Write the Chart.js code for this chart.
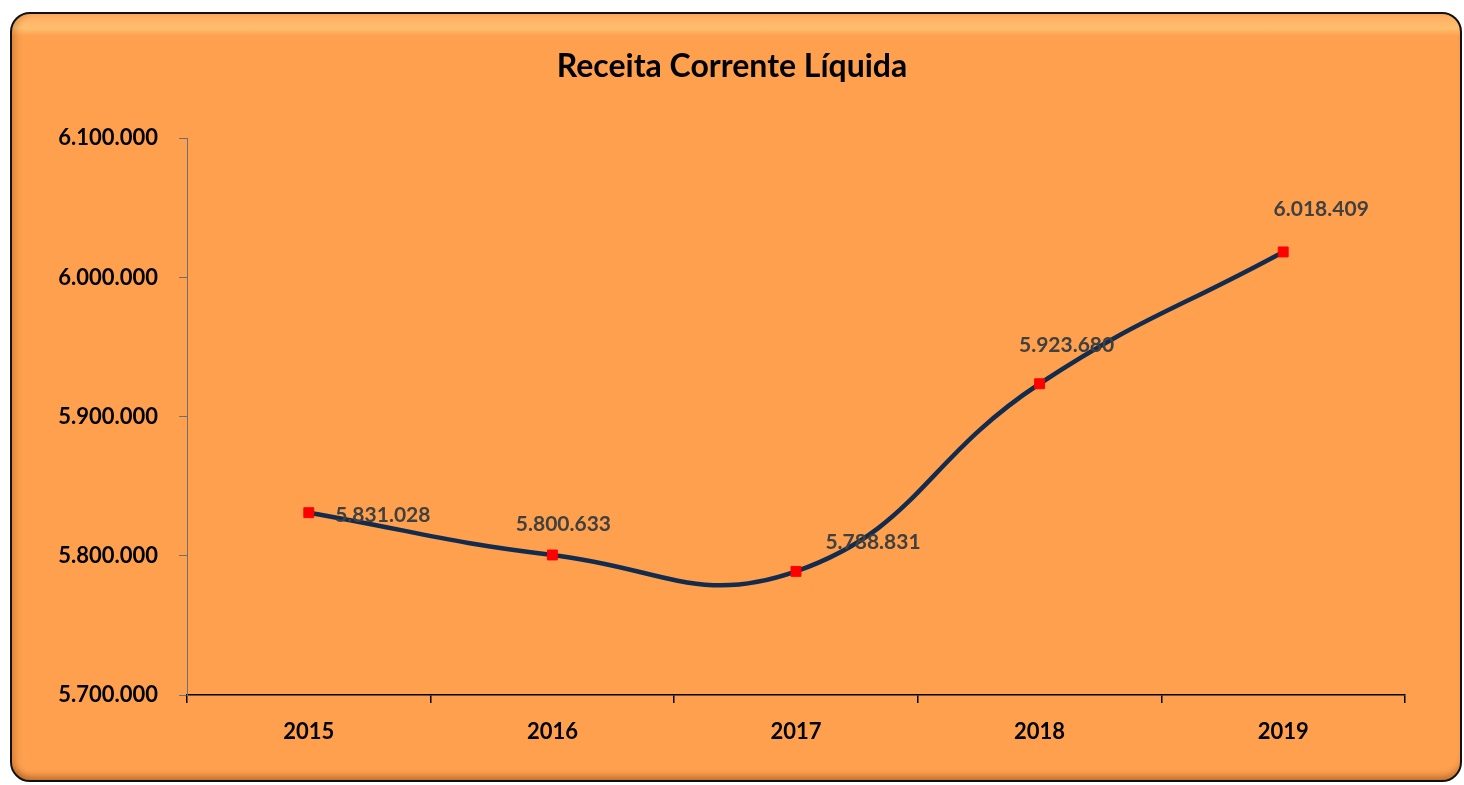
<!DOCTYPE html>
<html>
<head>
<meta charset="utf-8">
<script src="https://cdn.jsdelivr.net/npm/chart.js@4/dist/chart.umd.min.js"></script>
<style>
    html, body { margin: 0; padding: 0; background: #fff; }
    #frame {
        position: absolute; left: 10px; top: 12px; width: 1448px; height: 766px;
        border: 2px solid #111; border-radius: 20px;
        background: linear-gradient(to bottom, #fdab5e 0px, #ffc070 14px, #fea04e 22px, #fea04e 100%);
        box-shadow: inset 0 -8px 6px -4px rgba(120, 60, 10, 0.45), inset 8px 0 6px -4px rgba(150, 80, 20, 0.3);
    }
    #wrap { position: absolute; left: 0; top: 0; width: 1464px; height: 785px; }
</style>
</head>
<body>
<div id="frame"></div>
<div id="wrap"><canvas id="chart"></canvas></div>
<script>
const years = ['2015', '2016', '2017', '2018', '2019'];
const receita = [5831028, 5800633, 5788831, 5923680, 6018409];
const yMin = 5700000;
const yMax = 6100000;
const yStep = 100000;

// label offsets from each point (px), as placed in the original
const labelOffsets = [[74, 3], [11, -31], [77, -29], [27, -39], [38, -43]];

function fmt(v) {
    return String(Math.round(v)).replace(/\B(?=(\d{3})+(?!\d))/g, '.');
}

const FONT = 'Lato, "Open Sans", sans-serif';

const pointLabels = {
    id: 'pointLabels',
    afterDatasetsDraw(chart) {
        const ctx = chart.ctx;
        const meta = chart.getDatasetMeta(0);
        ctx.save();
        ctx.font = 'bold 21px ' + FONT;
        ctx.fillStyle = '#404040';
        ctx.textAlign = 'center';
        ctx.textBaseline = 'middle';
        meta.data.forEach((pt, i) => {
            const off = labelOffsets[i];
            ctx.fillText(fmt(receita[i]), pt.x + off[0], pt.y + off[1]);
        });
        ctx.restore();
    }
};

const ctx = document.getElementById('chart').getContext('2d');
new Chart(ctx, {
    type: 'line',
    data: {
        labels: years,
        datasets: [{
            data: receita,
            borderColor: '#132c4d',
            borderWidth: 4.5,
            tension: 0.45,
            pointStyle: 'rect',
            pointRadius: 7,
            pointBackgroundColor: '#ff0000',
            pointBorderColor: '#ff0000',
            pointBorderWidth: 1
        }]
    },
    options: {
        responsive: true,
        maintainAspectRatio: false,
        animation: false,
        layout: { padding: 0 },
        plugins: {
            legend: { display: false },
            tooltip: { enabled: false },
            title: {
                display: true,
                text: 'Receita Corrente Líquida',
                color: '#000',
                font: { family: FONT, size: 32, weight: 'bold' },
                padding: { top: 47, bottom: 53 }
            }
        },
        scales: {
            x: {
                offset: true,
                afterFit(scale) { scale.height = 90; },
                grid: { offset: true, drawOnChartArea: false, drawTicks: true, tickLength: 8, color: '#000', lineWidth: 1.5 },
                border: { color: '#000', width: 1.5 },
                ticks: { color: '#000', padding: 16, font: { family: FONT, size: 22, weight: 'bold' } }
            },
            y: {
                min: yMin,
                max: yMax,
                afterFit(scale) { scale.width = 187; },
                grid: { drawOnChartArea: false, drawTicks: true, tickLength: 8, color: '#6f6f6f' },
                border: { color: '#6f6f6f', width: 1 },
                ticks: {
                    stepSize: yStep,
                    color: '#000',
                    padding: 21,
                    font: { family: FONT, size: 22, weight: 'bold' },
                    callback: (v) => fmt(v)
                }
            },
            // empty right-hand margin so the title stays centred on the page
            spacer: {
                position: 'right',
                afterFit(scale) { scale.width = 59; },
                grid: { display: false },
                border: { display: false },
                ticks: { display: false }
            }
        }
    },
    plugins: [pointLabels]
});
</script>
</body>
</html>
